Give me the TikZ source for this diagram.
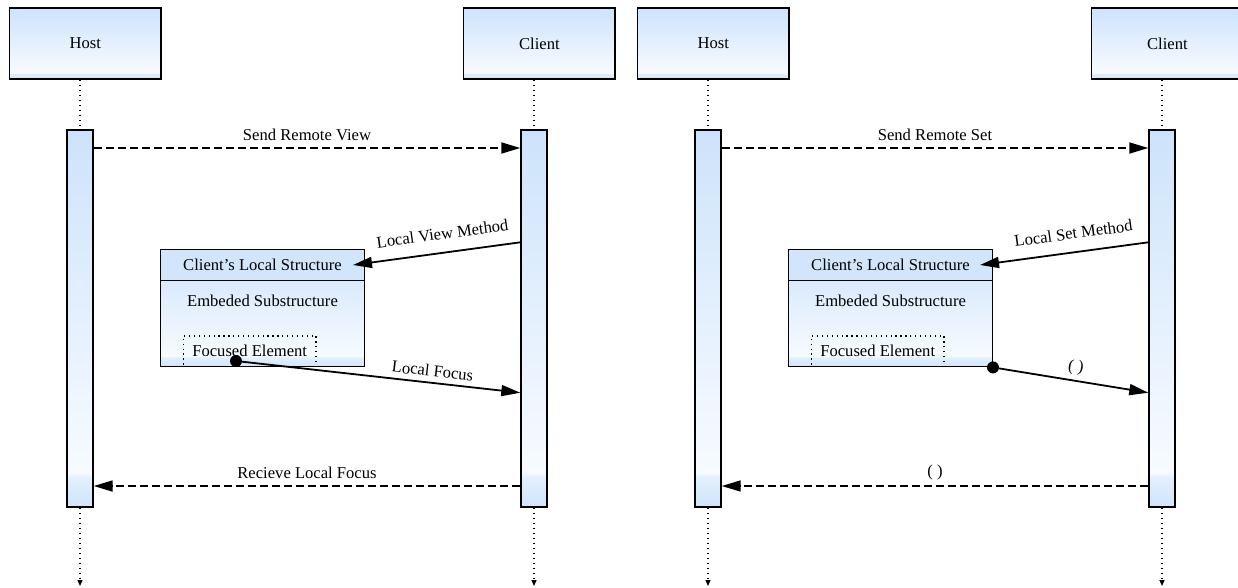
\documentclass[tikz,border=0pt]{standalone}
\usepackage{fontspec}
\setmainfont{Liberation Serif}
\usetikzlibrary{arrows.meta,positioning}

\definecolor{umltop}{RGB}{205,227,251}
\definecolor{umlwhite}{RGB}{247,251,255}
\definecolor{umlband}{RGB}{207,228,251}
\definecolor{umlbandtop}{RGB}{228,240,253}
\definecolor{umlhead}{RGB}{210,230,251}

\pgfdeclareverticalshading{umlfill}{100bp}{color(0bp)=(umlband); color(25bp)=(umlband); color(29bp)=(umlbandtop); color(29.5bp)=(umlwhite); color(75bp)=(umltop); color(100bp)=(umltop)}

\tikzset{
  actor/.style={draw, line width=1.4pt, shading=umlfill, minimum width=151.5pt, minimum height=71pt},
  bar/.style={draw, line width=1.4pt, shading=umlfill, minimum width=26pt, minimum height=377pt},
  structbox/.style={draw, line width=1.4pt, shading=umlfill, minimum width=203.6pt, minimum height=117.4pt},
  header/.style={draw, line width=1.4pt, fill=umlhead, anchor=north, minimum width=203.6pt, minimum height=31.4pt},
  focus/.style={draw, line width=1.2pt, dash pattern=on 1.3pt off 3.6pt, minimum width=132.7pt, minimum height=30.7pt},
  dot/.style={circle, fill=black, inner sep=0pt, minimum size=12pt},
  msg/.style={-{Triangle[length=19pt, width=11pt]}, line width=1.8pt},
  reply/.style={msg, dash pattern=on 8pt off 4pt},
  life/.style={line width=1.3pt, dash pattern=on 1.3pt off 3.7pt}
}

\begin{document}
\begin{tikzpicture}[x=1pt, y=-1pt, font=\fontsize{16.6}{20}\selectfont, node distance=628pt]

  \useasboundingbox (0,0) rectangle (1238,587);
  \clip (0,0) rectangle (1238,587);

  \coordinate (m1) at (0,148);
  \coordinate (m2) at (0,242.3);
  \coordinate (m3) at (0,392.7);
  \coordinate (m4) at (0,486);
  \coordinate (floor) at (0,586);

  \node (hostL) [actor] at (85.2,43.6) {Host};
  \node (clientL) [actor] at (539.4,43.6) {Client};
  \node (barHL) [bar] at (80,318.5) {};
  \node (barCL) [bar] at (534,318.5) {};
  \node (structL) [structbox] at (262.5,308) {};
  \node (headL) [header] at (structL.north) {Client's Local Structure};
  \node (subL) [node distance=36pt, below of=headL] {Embeded Substructure};
  \node (focusL) [focus] at (249.7,351.3) {Focused Element};
  \node (dotL) [dot] at (236,361) {};

  \node (hostR) [actor, right of=hostL] {Host};
  \node (clientR) [actor, right of=clientL] {Client};
  \node (barHR) [bar, right of=barHL] {};
  \node (barCR) [bar, right of=barCL] {};
  \node (structR) [structbox, right of=structL] {};
  \node (headR) [header] at (structR.north) {Client's Local Structure};
  \node (subR) [node distance=36pt, below of=headR] {Embeded Substructure};
  \node (focusR) [focus, right of=focusL] {Focused Element};
  \node (dotR) [dot] at (structR.south east) {};

  \path (barHL.north |- hostL.south) edge [life] (barHL.north);
  \path (barCL.north |- clientL.south) edge [life] (barCL.north);
  \path (barHR.north |- hostR.south) edge [life] (barHR.north);
  \path (barCR.north |- clientR.south) edge [life] (barCR.north);
  \path (barHL.south) edge [life, -{Triangle[length=6pt, width=5pt]}] (barHL.south |- floor);
  \path (barCL.south) edge [life, -{Triangle[length=6pt, width=5pt]}] (barCL.south |- floor);
  \path (barHR.south) edge [life, -{Triangle[length=6pt, width=5pt]}] (barHR.south |- floor);
  \path (barCR.south) edge [life, -{Triangle[length=6pt, width=5pt]}] (barCR.south |- floor);

  \path (barHL.east |- m1) edge [reply] node [above=3pt] {Send Remote View} (barCL.west |- m1);
  \path (barCL.west |- m2) edge [msg] node [sloped, above=9pt, pos=.45] {Local View Method} ([xshift=-12pt]headL.east);
  \path (dotL) edge [msg] node [sloped, above=2pt, pos=.68] {Local Focus} (barCL.west |- m3);
  \path (barCL.west |- m4) edge [reply] node [above=3pt] {Recieve Local Focus} (barHL.east |- m4);

  \path (barHR.east |- m1) edge [reply] node [above=3pt] {Send Remote Set} (barCR.west |- m1);
  \path (barCR.west |- m2) edge [msg] node [sloped, above=9pt, pos=.43] {Local Set Method} ([xshift=-13pt]headR.east);
  \path (dotR) edge [msg] node [sloped, above=1.5pt] {( )} (barCR.west |- m3);
  \path (barCR.west |- m4) edge [reply] node [above=2pt] {( )} (barHR.east |- m4);

\end{tikzpicture}
\end{document}
